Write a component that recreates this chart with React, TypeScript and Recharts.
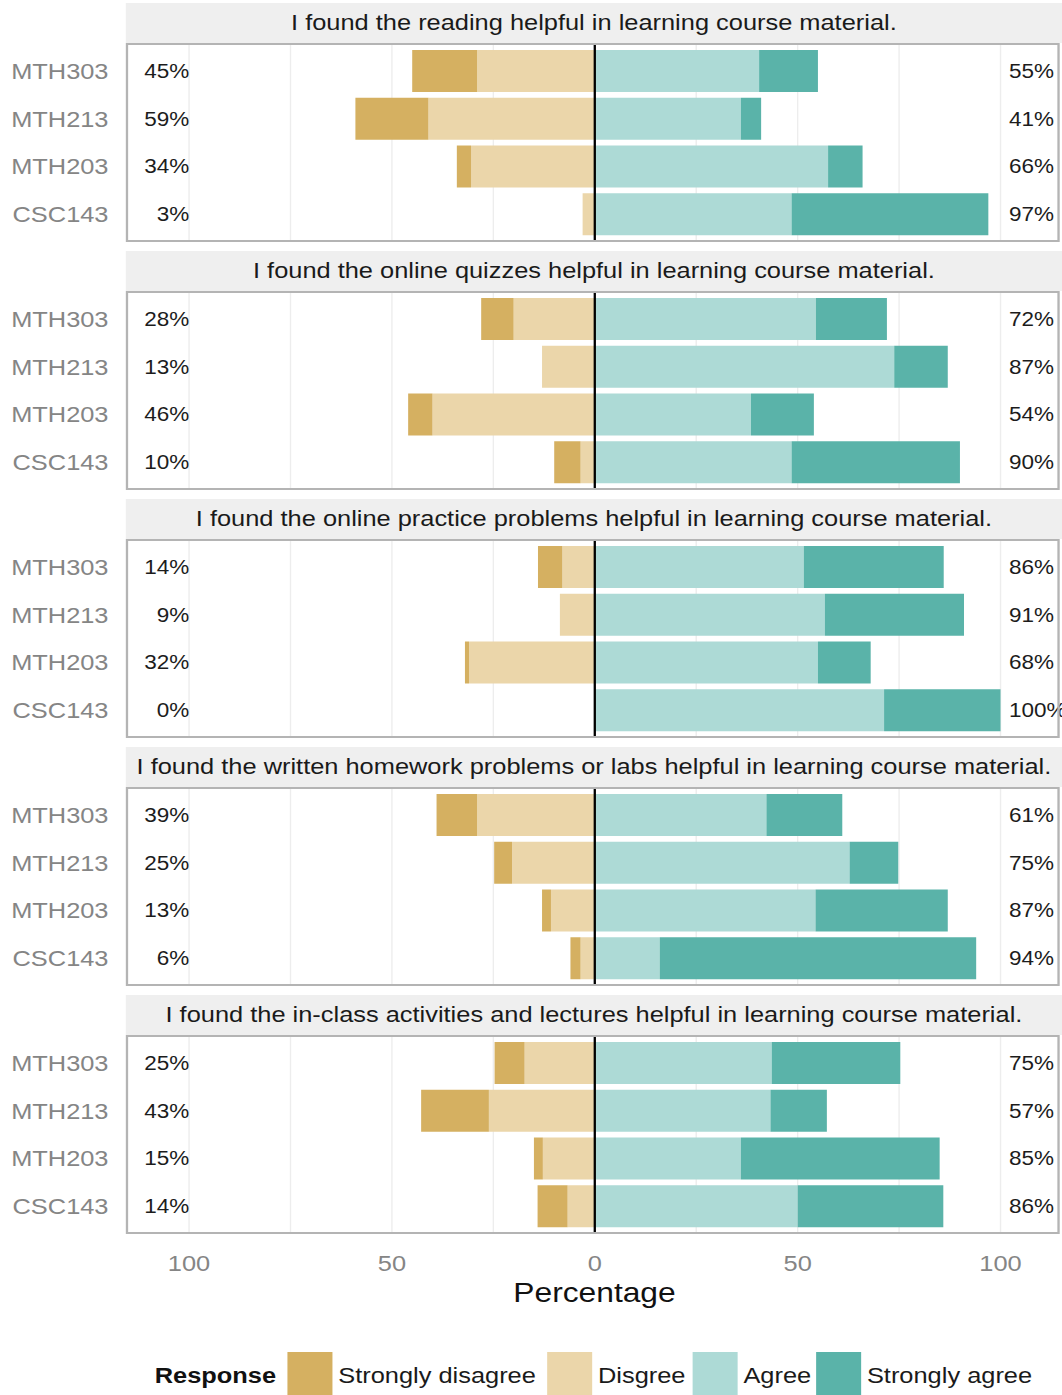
import React from "react";
import { BarChart, Bar, XAxis, YAxis, CartesianGrid, ReferenceLine } from "recharts";

// the reference figure is stretched sideways, so everything is laid out
// at a narrower width and then scaled on x
const PAGE_W = 1062;
const W = 920;
const SX = PAGE_W / W;
const FONT = '"Liberation Sans", Arial, Helvetica, sans-serif';

const courses = ["MTH303", "MTH213", "MTH203", "CSC143"];

const questions = [
  "I found the reading helpful in learning course material.",
  "I found the online quizzes helpful in learning course material.",
  "I found the online practice problems helpful in learning course material.",
  "I found the written homework problems or labs helpful in learning course material.",
  "I found the in-class activities and lectures helpful in learning course material.",
];

const responses = ["Strongly disagree", "Disgree", "Agree", "Strongly agree"];
const colors = ["#d5b061", "#ebd6aa", "#addad6", "#5ab3a9"];

// one inner array per question, in the order of `courses`
const stronglyDisagree = [
  [16, 18, 3.5, 0],
  [8, 0, 6, 6.5],
  [6, 0, 1, 0],
  [10, 4.4, 2.2, 2.5],
  [7.4, 16.7, 2.2, 7.4],
];
const disagree = [
  [29, 41, 30.5, 3],
  [20, 13, 40, 3.5],
  [8, 8.6, 31, 0],
  [29, 20.4, 10.8, 3.5],
  [17.3, 26.1, 12.8, 6.7],
];
const agree = [
  [40.5, 36, 57.5, 48.5],
  [54.5, 73.8, 38.5, 48.5],
  [51.5, 56.7, 55, 71.3],
  [42.3, 62.8, 54.4, 16],
  [43.6, 43.3, 36, 50],
];
const stronglyAgree = [
  [14.5, 5, 8.5, 48.5],
  [17.5, 13.2, 15.5, 41.5],
  [34.5, 34.3, 13, 28.7],
  [18.7, 12, 32.6, 78],
  [31.7, 13.9, 49, 35.9],
];

const xTicks = [-100, -75, -50, -25, 0, 25, 50, 75, 100];

function panelRows(p: number) {
  return courses.map((course, r) => {
    const sd = stronglyDisagree[p][r];
    const d = disagree[p][r];
    const a = agree[p][r];
    const sa = stronglyAgree[p][r];
    return {
      course,
      sd: -sd,
      d: -d,
      a,
      sa,
      neg: `${Math.round(sd + d)}%`,
      pos: `${Math.round(a + sa)}%`,
    };
  });
}

const CatTick = (props: any) => (
  <text x={props.x} y={props.y} dy="0.36em" textAnchor="end" fontSize={22} fontFamily={FONT} fill="#858585">
    {props.payload.value}
  </text>
);

const NegTick = (props: any) => (
  <text x={props.x} y={props.y} dy="0.36em" textAnchor="end" fontSize={19.5} fontFamily={FONT} fill="#1c1c1c">
    {props.payload.value}
  </text>
);

const PosTick = (props: any) => (
  <text x={props.x} y={props.y} dy="0.36em" textAnchor="start" fontSize={19.5} fontFamily={FONT} fill="#1c1c1c">
    {props.payload.value}
  </text>
);

const XTick = (props: any) => {
  const v = props.payload.value;
  if (v % 50 !== 0) return <g />;
  return (
    <text x={props.x} y={props.y} dy="0.36em" textAnchor="middle" fontSize={22} fontFamily={FONT} fill="#858585">
      {Math.abs(v)}
    </text>
  );
};

const BODY_TOP = 44;
const STEP = 248;
const BODY_H = 197;

function Panel({ index }: { index: number }) {
  const top = BODY_TOP + STEP * index;
  const last = index === questions.length - 1;
  const data = panelRows(index);
  return (
    <>
      <div
        style={{
          position: "absolute",
          left: 109,
          top: top - 41,
          width: W - 109,
          height: 40,
          background: "#efefef",
          display: "flex",
          alignItems: "center",
          justifyContent: "center",
          fontFamily: FONT,
          fontSize: 22,
          color: "#1a1a1a",
          whiteSpace: "nowrap",
        }}
      >
        {questions[index]}
      </div>
      <div style={{ position: "absolute", left: 0, top }}>
        <BarChart
          width={W}
          height={last ? BODY_H + 50 : BODY_H}
          data={data}
          layout="vertical"
          stackOffset="sign"
          barSize={42}
          margin={{ top: 0, right: 3, bottom: 0, left: 0 }}
        >
          <CartesianGrid horizontal={false} stroke="#ededed" strokeWidth={1.2} />
          <XAxis
            type="number"
            domain={[-115.3, 114.3]}
            ticks={xTicks}
            interval={0}
            hide={!last}
            height={50}
            axisLine={false}
            tickLine={false}
            tickSize={0}
            tickMargin={30}
            tick={XTick}
          />
          <YAxis
            type="category"
            dataKey="course"
            width={110}
            interval={0}
            axisLine={false}
            tickLine={false}
            tickSize={0}
            tickMargin={16}
            padding={{ top: 3, bottom: 3 }}
            tick={CatTick}
          />
          <YAxis
            yAxisId="neg"
            type="category"
            dataKey="neg"
            orientation="left"
            mirror
            interval={0}
            axisLine={false}
            tickLine={false}
            tickSize={0}
            tickMargin={54}
            padding={{ top: 3, bottom: 3 }}
            tick={NegTick}
          />
          <YAxis
            yAxisId="pos"
            type="category"
            dataKey="pos"
            orientation="right"
            mirror
            interval={0}
            axisLine={false}
            tickLine={false}
            tickSize={0}
            tickMargin={43}
            padding={{ top: 3, bottom: 3 }}
            tick={PosTick}
          />
          <ReferenceLine x={0} stroke="#000" strokeWidth={2} />
          <Bar dataKey="d" stackId="s" fill={colors[1]} isAnimationActive={false} />
          <Bar dataKey="sd" stackId="s" fill={colors[0]} isAnimationActive={false} />
          <Bar dataKey="a" stackId="s" fill={colors[2]} isAnimationActive={false} />
          <Bar dataKey="sa" stackId="s" fill={colors[3]} isAnimationActive={false} />
        </BarChart>
      </div>
      <div
        style={{
          position: "absolute",
          left: 109,
          top: top - 1,
          width: 809,
          height: BODY_H + 2,
          border: "2px solid #b4b4b4",
          boxSizing: "border-box",
          pointerEvents: "none",
        }}
      />
    </>
  );
}

const legendBoxLeft = [249, 474, 600, 707];

export default function App() {
  return (
    <div
      style={{
        position: "absolute",
        left: 0,
        top: 0,
        width: W,
        height: 1395,
        overflow: "hidden",
        transform: `scaleX(${SX})`,
        transformOrigin: "0 0",
        fontFamily: FONT,
        background: "#fff",
      }}
    >
      {questions.map((q, i) => (
        <Panel key={q} index={i} />
      ))}
      <div
        style={{
          position: "absolute",
          left: 515,
          top: 1293,
          transform: "translate(-50%, -50%)",
          fontSize: 27.5,
          color: "#111",
          whiteSpace: "nowrap",
        }}
      >
        Percentage
      </div>
      <div
        style={{
          position: "absolute",
          left: 134,
          top: 1376,
          transform: "translateY(-50%)",
          fontSize: 22,
          fontWeight: "bold",
          color: "#111",
        }}
      >
        Response
      </div>
      {responses.map((r, i) => (
        <React.Fragment key={r}>
          <div
            style={{
              position: "absolute",
              left: legendBoxLeft[i],
              top: 1352,
              width: 39,
              height: 46,
              background: colors[i],
            }}
          />
          <div
            style={{
              position: "absolute",
              left: legendBoxLeft[i] + 44,
              top: 1376,
              transform: "translateY(-50%)",
              fontSize: 22,
              color: "#1a1a1a",
              whiteSpace: "nowrap",
            }}
          >
            {r}
          </div>
        </React.Fragment>
      ))}
    </div>
  );
}
